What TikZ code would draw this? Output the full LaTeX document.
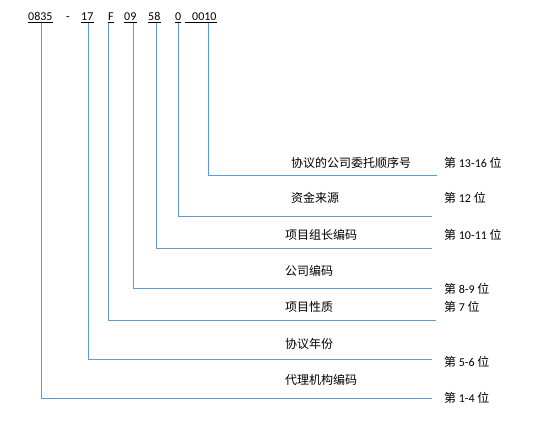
\documentclass[tikz,border=0pt]{standalone}
\usepackage{fontspec}
\setmainfont{Carlito}
\newfontfamily\cjk{Noto Sans CJK SC}
\usepackage{tikz}
\definecolor{wireblue}{HTML}{5B9BD5}

\begin{document}
\begin{tikzpicture}[
    x=1pt, y=-1pt,
    seg/.style={anchor=base west, inner sep=0pt, font=\fontsize{12}{14}\selectfont},
    uline/.style={line width=0.6pt, black},
    wire/.style={draw=wireblue, line width=0.9pt},
    meaning/.style={anchor=west, inner sep=0pt, font=\fontsize{12}{14}\selectfont\cjk},
    place/.style={anchor=west, inner sep=0pt, font=\fontsize{12}{14}\selectfont}
  ]
  \useasboundingbox (0,0) rectangle (539,425);

  % code segments
  \node[seg] (s0835) at (28,21) {0835};
  \node[seg] (sdash) at (66,21) {-};
  \node[seg] (s17)   at (81,21) {17};
  \node[seg] (sF)    at (108,21) {F};
  \node[seg] (s09)   at (124,21) {09};
  \node[seg] (s58)   at (148,21) {58};
  \node[seg] (s0)    at (175,21) {0};
  \node[seg] (s0010) at (185,21) {\hspace{7pt}0010};

  \foreach \s in {s0835,s17,sF,s09,s58,s0,s0010}
    \draw[uline] ([yshift=-1.6pt]\s.base west) -- ([yshift=-1.6pt]\s.base east);

  % line ends
  \coordinate (e1) at (432,398);
  \coordinate (e2) at (432,359);
  \coordinate (e3) at (436,320);
  \coordinate (e4) at (432,288);
  \coordinate (e5) at (432,248);
  \coordinate (e6) at (432,216);
  \coordinate (e7) at (437,175);

  \draw[wire] ([shift={(13,2)}]s0835.base west) |- (e1);
  \draw[wire] ([shift={(7,2)}]s17.base west) |- (e2);
  \draw[wire] ([shift={(0.5,2)}]sF.base west) |- (e3);
  \draw[wire] ([shift={(9,2)}]s09.base west) |- (e4);
  \draw[wire] ([shift={(8,2)}]s58.base west) |- (e5);
  \draw[wire] ([shift={(3.5,2)}]s0.base west) |- (e6);
  \draw[wire] ([shift={(23.5,2)}]s0010.base west) |- (e7);

  % meanings
  \node[meaning] (m7) at (291,163) {协议的公司委托顺序号};
  \node[meaning] (m6) at (291,198) {资金来源};
  \node[meaning] (m5) at (285,235) {项目组长编码};
  \node[meaning] (m4) at (285,271) {公司编码};
  \node[meaning] (m3) at (285,307) {项目性质};
  \node[meaning] (m2) at (285,344) {协议年份};
  \node[meaning] (m1) at (285,380) {代理机构编码};

  % positions
  \node[place] (p7) at (444,163) {{\cjk 第} 13-16 {\cjk 位}};
  \node[place] (p6) at (444,198) {{\cjk 第} 12 {\cjk 位}};
  \node[place] (p5) at (444,235) {{\cjk 第} 10-11 {\cjk 位}};
  \node[place] (p4) at (444,289) {{\cjk 第} 8-9 {\cjk 位}};
  \node[place] (p3) at (444,307) {{\cjk 第} 7 {\cjk 位}};
  \node[place] (p2) at (444,362) {{\cjk 第} 5-6 {\cjk 位}};
  \node[place] (p1) at (444,398) {{\cjk 第} 1-4 {\cjk 位}};

\end{tikzpicture}
\end{document}
